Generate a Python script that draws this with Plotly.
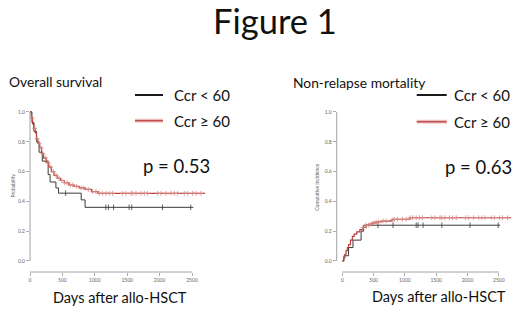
import numpy as np
import plotly.graph_objects as go

W, H = 520, 312

# ---------------- data ----------------
# Overall survival, Ccr >= 60 (red)
os_hi_t = [0, 20, 40, 60, 80, 100, 120, 150, 180, 210, 250, 290, 330, 370, 420, 470, 530, 600, 680, 760, 850, 950, 1050, 2700]
os_hi_s = [1.0, 0.96, 0.92, 0.89, 0.86, 0.82, 0.79, 0.76, 0.72, 0.69, 0.66, 0.63, 0.60, 0.575, 0.555, 0.54, 0.525, 0.51, 0.50, 0.49, 0.48, 0.465, 0.454, 0.454]
os_hi_cens = [30, 70, 110, 140, 170, 200, 240, 280, 320, 360, 400, 450, 490, 530, 570, 620, 660, 720, 790, 830, 900,
              966, 1018, 1069, 1121, 1172, 1224, 1275, 1429, 1481, 1558, 1584, 1635, 1712, 1764, 1815, 1970,
              2021, 2098, 2175, 2227, 2278, 2381, 2433, 2510, 2561, 2638]
# Overall survival, Ccr < 60 (black)
os_lo_t = [0, 30, 60, 100, 140, 190, 280, 310, 400, 440, 790, 850, 2520]
os_lo_s = [1.0, 0.93, 0.87, 0.80, 0.73, 0.67, 0.58, 0.53, 0.49, 0.455, 0.41, 0.36, 0.36]
os_lo_cens = [550, 1170, 1210, 1290, 1530, 1570, 2045, 2480]

# Non-relapse mortality, Ccr >= 60 (red)
nrm_hi_t = [0, 20, 40, 60, 80, 100, 130, 160, 190, 230, 280, 330, 380, 430, 480, 540, 620, 780, 820, 1080, 2700]
nrm_hi_v = [0.0, 0.02, 0.045, 0.07, 0.09, 0.11, 0.14, 0.165, 0.18, 0.195, 0.21, 0.225, 0.24, 0.248, 0.255, 0.262, 0.268, 0.275, 0.28, 0.29, 0.29]
nrm_hi_cens = [330, 380, 420, 460, 500, 540, 580, 650, 700, 800, 830, 880, 960, 1020, 1080, 1120, 1180, 1230, 1280,
               1430, 1480, 1560, 1590, 1640, 1710, 1760, 1820, 1970, 2020, 2100, 2180, 2230, 2280, 2380, 2430,
               2510, 2560, 2640]
# Non-relapse mortality, Ccr < 60 (black)
nrm_lo_t = [0, 25, 100, 170, 300, 340, 2520]
nrm_lo_v = [0.0, 0.035, 0.09, 0.14, 0.20, 0.24, 0.24]
nrm_lo_cens = [570, 810, 1180, 1210, 1290, 1590, 2040, 2490]

y_ticks = [0.0, 0.2, 0.4, 0.6, 0.8, 1.0]
y_tick_labels = ["0.0", "0.2", "0.4", "0.6", "0.8", "1.0"]
x_ticks = [0, 500, 1000, 1500, 2000, 2500]
x_tick_labels = ["0", "500", "1000", "1500", "2000", "2500"]

legend_labels = ["Ccr < 60", "Ccr \u2265 60"]
panel_titles = ["Overall survival", "Non-relapse mortality"]
p_values = ["p = 0.53", "p = 0.63"]
x_title = "Days after allo-HSCT"
y_titles = ["Probability", "Cumulative incidence"]

# ---------------- style ----------------
FONT = "Lato"
BLACK = "#3a3a3a"
RED = "#b8403b"
RED_MARK = "#d88a86"
AXIS = "#8a8a8a"


def step_at(times, vals, t):
    idx = np.searchsorted(np.asarray(times), np.asarray(t), side="right") - 1
    return list(np.asarray(vals)[idx])


fig = go.Figure()


def add_curve(t, v, cens, color, mcolor, xa, ya, symbol, lw, msize):
    fig.add_trace(go.Scatter(x=t, y=v, mode="lines", line=dict(color=color, width=lw, shape="hv"),
                             xaxis=xa, yaxis=ya, showlegend=False, hoverinfo="skip"))
    fig.add_trace(go.Scatter(x=cens, y=step_at(t, v, cens), mode="markers",
                             marker=dict(symbol=symbol, size=msize, color=mcolor,
                                         line=dict(color=mcolor, width=0.8)),
                             xaxis=xa, yaxis=ya, showlegend=False, hoverinfo="skip"))


add_curve(os_lo_t, os_lo_s, os_lo_cens, BLACK, BLACK, "x", "y", "line-ns", 1.0, 4)
add_curve(os_hi_t, os_hi_s, os_hi_cens, RED, RED_MARK, "x", "y", "cross-thin", 1.2, 3.5)
add_curve(nrm_lo_t, nrm_lo_v, nrm_lo_cens, BLACK, BLACK, "x2", "y2", "line-ns", 1.0, 4)
add_curve(nrm_hi_t, nrm_hi_v, nrm_hi_cens, RED, RED_MARK, "x2", "y2", "cross-thin", 1.2, 3.5)

ydom = [(H - 272) / H, (H - 106) / H]
yr = [-0.074, 1.04]
common_ax = dict(showgrid=False, zeroline=False, showline=False, ticks="outside", ticklen=3,
                 tickwidth=0.7, tickcolor=AXIS, tickfont=dict(size=5, color="#666", family=FONT))

fig.update_layout(
    width=W, height=H, margin=dict(l=0, r=0, t=0, b=0),
    paper_bgcolor="white", plot_bgcolor="white", showlegend=False,
    xaxis=dict(domain=[30 / W, 214.7 / W], range=[0, 2850], anchor="y",
               tickvals=x_ticks, ticktext=x_tick_labels, **common_ax),
    yaxis=dict(domain=ydom, range=yr, anchor="x",
               tickvals=y_ticks, ticktext=y_tick_labels, **common_ax),
    xaxis2=dict(domain=[336.7 / W, 515.7 / W], range=[-90, 2770], anchor="y2",
                tickvals=x_ticks, ticktext=x_tick_labels, **common_ax),
    yaxis2=dict(domain=ydom, range=yr, anchor="x2",
                tickvals=y_ticks, ticktext=y_tick_labels, **common_ax),
)

shapes = []
for xa, ya in (("x", "y"), ("x2", "y2")):
    # R-style axis lines spanning only the tick range
    shapes.append(dict(type="line", xref=f"{xa} domain", yref=ya, x0=0, x1=0, y0=0, y1=1,
                       line=dict(color=AXIS, width=0.8)))
    shapes.append(dict(type="line", xref=xa, yref=f"{ya} domain", x0=0, x1=2500, y0=0, y1=0,
                       line=dict(color=AXIS, width=0.8)))


def px(x):
    return x / W


def py(y):
    return 1 - y / H


annotations = []
TXT = "#111111"
annotations.append(dict(text="Figure 1", x=px(275.3), y=py(21), xref="paper", yref="paper",
                        showarrow=False, xanchor="center", yanchor="middle",
                        font=dict(family=FONT, size=34.5, color=TXT)))

panels = [
    dict(title_x=7, title_y=81.5, leg_x0=135, leg_x1=163, leg_y=(95, 120.7), leg_tx=171.7,
         p_x=140.7, p_y=166, xt_x=120.3, xt_y=297, yt_x=12, yt_y=185.5),
    dict(title_x=290.7, title_y=82.7, leg_x0=416.7, leg_x1=446.7, leg_y=(95, 121.7), leg_tx=451.7,
         p_x=442.7, p_y=166.7, xt_x=438.7, xt_y=296, yt_x=316.7, yt_y=187),
]
for i, p in enumerate(panels):
    annotations.append(dict(text=panel_titles[i], x=px(p["title_x"]), y=py(p["title_y"]),
                            xref="paper", yref="paper", showarrow=False, xanchor="left",
                            yanchor="middle", font=dict(family=FONT, size=13.8, color=TXT)))
    for j, lab in enumerate(legend_labels):
        ly = p["leg_y"][j]
        if j == 0:
            shapes.append(dict(type="line", xref="paper", yref="paper", x0=px(p["leg_x0"]),
                               x1=px(p["leg_x1"]), y0=py(ly), y1=py(ly),
                               line=dict(color="#1a1a1a", width=2)))
        else:
            shapes.append(dict(type="line", xref="paper", yref="paper", x0=px(p["leg_x0"]),
                               x1=px(p["leg_x1"]), y0=py(ly), y1=py(ly),
                               line=dict(color="#f2c9c7", width=4)))
            shapes.append(dict(type="line", xref="paper", yref="paper", x0=px(p["leg_x0"]),
                               x1=px(p["leg_x1"]), y0=py(ly), y1=py(ly),
                               line=dict(color="#c0504d", width=1.6)))
        annotations.append(dict(text=lab, x=px(p["leg_tx"]), y=py(ly), xref="paper", yref="paper",
                                showarrow=False, xanchor="left", yanchor="middle",
                                font=dict(family=FONT, size=15, color=TXT)))
    annotations.append(dict(text=p_values[i], x=px(p["p_x"]), y=py(p["p_y"]), xref="paper",
                            yref="paper", showarrow=False, xanchor="left", yanchor="middle",
                            font=dict(family=FONT, size=18.5, color=TXT)))
    annotations.append(dict(text=x_title, x=px(p["xt_x"]), y=py(p["xt_y"]), xref="paper",
                            yref="paper", showarrow=False, xanchor="center", yanchor="middle",
                            font=dict(family=FONT, size=14.5, color=TXT)))
    annotations.append(dict(text=y_titles[i], x=px(p["yt_x"]), y=py(p["yt_y"]), xref="paper",
                            yref="paper", showarrow=False, xanchor="center", yanchor="middle",
                            textangle=-90, font=dict(family=FONT, size=5, color="#666")))

fig.update_layout(shapes=shapes, annotations=annotations)
fig.write_html("out.html", config={"displayModeBar": False, "staticPlot": True},
               post_script="document.body.style.margin='0';document.body.style.overflow='hidden';")
